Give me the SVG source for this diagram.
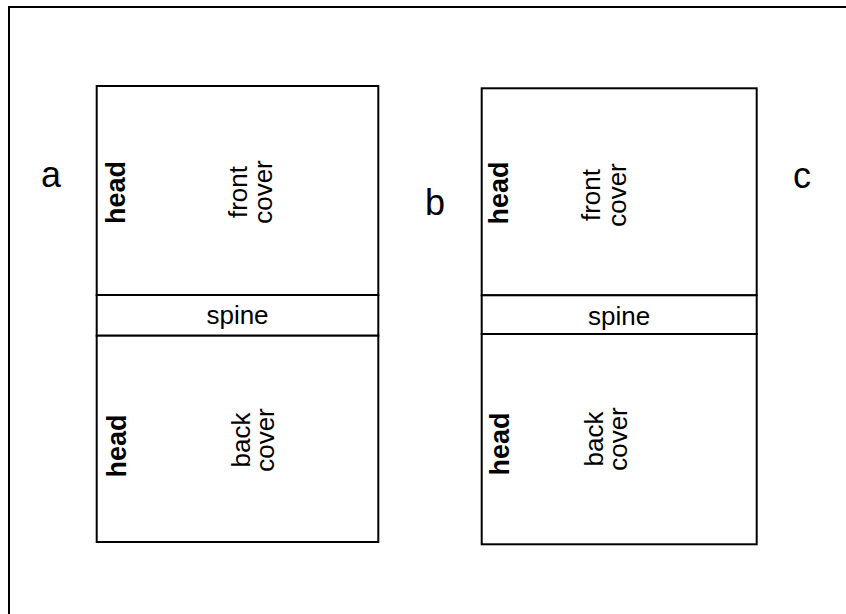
<svg xmlns="http://www.w3.org/2000/svg" width="846" height="614" viewBox="0 0 846 614">
<style>
.box{fill:#fff;stroke:#000;stroke-width:2}
.t{font-family:"Liberation Sans",Arial,sans-serif;font-size:26px;fill:#000;text-anchor:middle}
.h{font-family:"Liberation Sans",Arial,sans-serif;font-size:27px;font-weight:bold;fill:#000;text-anchor:middle}
.l{font-family:"Liberation Sans",Arial,sans-serif;font-size:36px;fill:#000;text-anchor:middle}
</style>
<rect width="846" height="614" fill="#fff"/>
<rect id="frame" x="9" y="7" width="900" height="700" fill="none" stroke="#000" stroke-width="2"/>
<g id="labels">
<text class="l" x="51" y="186.5">a</text>
<text class="l" x="435" y="215">b</text>
<text class="l" x="802" y="188">c</text>
</g>
<g id="bookA">
<g id="a-front">
<rect class="box" x="96.7" y="86" width="281.6" height="209"/>
<text class="h" x="125" y="192.5" transform="rotate(-90 125 192.5)">head</text>
<text class="t" x="246.5" y="192" transform="rotate(-90 246.5 192)">front</text>
<text class="t" x="272" y="192" transform="rotate(-90 272 192)">cover</text>
</g>
<g id="a-spine">
<rect class="box" x="96.7" y="295" width="281.6" height="40.7"/>
<text class="t" x="237.5" y="324.3">spine</text>
</g>
<g id="a-back">
<rect class="box" x="96.7" y="335.7" width="281.6" height="206.3"/>
<text class="h" x="126" y="446" transform="rotate(-90 126 446)">head</text>
<text class="t" x="249.5" y="440" transform="rotate(-90 249.5 440)">back</text>
<text class="t" x="273.5" y="440" transform="rotate(-90 273.5 440)">cover</text>
</g>
</g>
<g id="bookB">
<g id="b-front">
<rect class="box" x="481.7" y="88.3" width="275" height="207"/>
<text class="h" x="507.5" y="193" transform="rotate(-90 507.5 193)">head</text>
<text class="t" x="600" y="195" transform="rotate(-90 600 195)">front</text>
<text class="t" x="626" y="195" transform="rotate(-90 626 195)">cover</text>
</g>
<g id="b-spine">
<rect class="box" x="481.7" y="295.3" width="275" height="38.7"/>
<text class="t" x="619.2" y="325">spine</text>
</g>
<g id="b-back">
<rect class="box" x="481.7" y="334" width="275" height="210.3"/>
<text class="h" x="509" y="444" transform="rotate(-90 509 444)">head</text>
<text class="t" x="603" y="439" transform="rotate(-90 603 439)">back</text>
<text class="t" x="627" y="439" transform="rotate(-90 627 439)">cover</text>
</g>
</g>
<g id="connectors"/>
</svg>
